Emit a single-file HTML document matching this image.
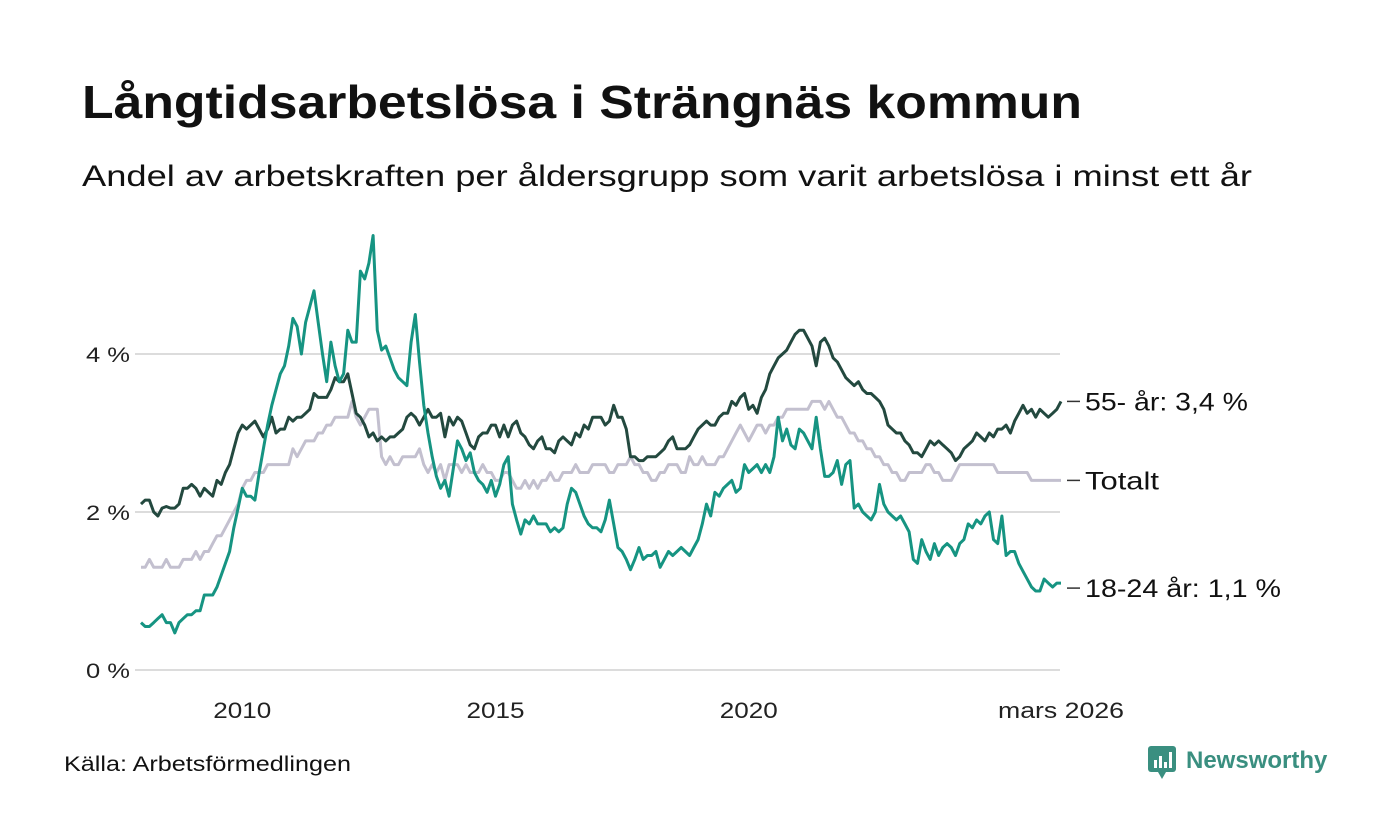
<!DOCTYPE html>
<html><head><meta charset="utf-8"><style>
body{margin:0;background:#fff;font-family:"Liberation Sans",sans-serif;}
#wrap{position:relative;width:1400px;height:840px;overflow:hidden;background:#fff}
</style></head><body>
<div id="wrap">
<svg id="chart" width="1400" height="840" xmlns="http://www.w3.org/2000/svg">
<text x="82" y="118" font-size="46" font-weight="bold" fill="#111" textLength="1000" lengthAdjust="spacingAndGlyphs">Långtidsarbetslösa i Strängnäs kommun</text>
<text x="82" y="186" font-size="30" fill="#111" textLength="1170" lengthAdjust="spacingAndGlyphs">Andel av arbetskraften per åldersgrupp som varit arbetslösa i minst ett år</text>
<g id="grid"></g><g id="series"></g><g id="labels"></g>
<text x="64" y="771" font-size="21" fill="#111" textLength="287" lengthAdjust="spacingAndGlyphs">Källa: Arbetsförmedlingen</text>
<g>
<rect x="1148" y="746" width="28" height="26" rx="3" fill="#3a8f80"/>
<polygon points="1158,772 1166,772 1162,779" fill="#3a8f80"/>
<rect x="1154" y="760" width="3" height="8" fill="#fff"/><rect x="1159" y="756" width="3" height="12" fill="#fff"/><rect x="1164" y="762" width="3" height="6" fill="#fff"/><rect x="1169" y="752" width="3" height="16" fill="#fff"/>
<text x="1186" y="768" font-size="24" font-weight="bold" fill="#3a8f80">Newsworthy</text>
</g>
</svg></div>
<script>
const tickValues=[0,2,4];
const tickLabels=["0 %","2 %","4 %"];
const yearTicks=[2010,2015,2020];
const seriesNames=["Totalt","55- år","18-24 år"];
const totalt=[1.3,1.3,1.4,1.3,1.3,1.3,1.4,1.3,1.3,1.3,1.4,1.4,
1.4,1.5,1.4,1.5,1.5,1.6,1.7,1.7,1.8,1.9,2.0,2.1,
2.3,2.4,2.4,2.5,2.5,2.5,2.6,2.6,2.6,2.6,2.6,2.6,
2.8,2.7,2.8,2.9,2.9,2.9,3.0,3.0,3.1,3.1,3.2,3.2,
3.2,3.2,3.4,3.2,3.1,3.2,3.3,3.3,3.3,2.7,2.6,2.7,
2.6,2.6,2.7,2.7,2.7,2.7,2.8,2.6,2.5,2.6,2.5,2.6,
2.4,2.6,2.6,2.6,2.5,2.6,2.5,2.5,2.5,2.6,2.5,2.5,
2.4,2.4,2.5,2.5,2.4,2.3,2.3,2.4,2.3,2.4,2.3,2.4,
2.4,2.5,2.4,2.4,2.5,2.5,2.5,2.6,2.5,2.5,2.5,2.6,
2.6,2.6,2.6,2.5,2.5,2.6,2.6,2.6,2.7,2.6,2.6,2.5,
2.5,2.4,2.4,2.5,2.5,2.6,2.6,2.6,2.5,2.5,2.7,2.6,
2.6,2.7,2.6,2.6,2.6,2.7,2.7,2.8,2.9,3.0,3.1,3.0,
2.9,3.0,3.1,3.1,3.0,3.1,3.1,3.2,3.2,3.3,3.3,3.3,
3.3,3.3,3.3,3.4,3.4,3.4,3.3,3.4,3.3,3.2,3.2,3.1,
3.0,3.0,2.9,2.9,2.8,2.8,2.7,2.7,2.6,2.6,2.5,2.5,
2.4,2.4,2.5,2.5,2.5,2.5,2.6,2.6,2.5,2.5,2.4,2.4,
2.4,2.5,2.6,2.6,2.6,2.6,2.6,2.6,2.6,2.6,2.6,2.5,
2.5,2.5,2.5,2.5,2.5,2.5,2.5,2.4,2.4,2.4,2.4,2.4,
2.4,2.4,2.4];
const age55=[2.1,2.15,2.15,2.0,1.95,2.05,2.07,2.05,2.05,2.1,2.3,2.3,
2.35,2.3,2.2,2.3,2.25,2.2,2.4,2.35,2.5,2.6,2.8,3.0,
3.1,3.05,3.1,3.15,3.05,2.95,3.05,3.2,3.0,3.05,3.05,3.2,
3.15,3.2,3.2,3.25,3.3,3.5,3.45,3.45,3.45,3.55,3.7,3.65,
3.65,3.75,3.5,3.25,3.2,3.1,2.95,3.0,2.9,2.95,2.9,2.95,
2.95,3.0,3.05,3.2,3.25,3.2,3.1,3.2,3.3,3.2,3.2,3.25,
2.95,3.2,3.1,3.2,3.15,3.0,2.85,2.8,2.95,3.0,3.0,3.1,
3.1,2.95,3.1,2.95,3.1,3.15,3.0,2.95,2.85,2.8,2.9,2.95,
2.8,2.8,2.75,2.9,2.95,2.9,2.85,3.0,2.95,3.1,3.05,3.2,
3.2,3.2,3.1,3.15,3.35,3.2,3.2,3.05,2.7,2.7,2.65,2.65,
2.7,2.7,2.7,2.75,2.8,2.9,2.95,2.8,2.8,2.8,2.85,2.95,
3.05,3.1,3.15,3.1,3.1,3.2,3.25,3.25,3.4,3.35,3.45,3.5,
3.3,3.35,3.25,3.45,3.55,3.75,3.85,3.95,4.0,4.05,4.15,4.25,
4.3,4.3,4.2,4.1,3.85,4.15,4.2,4.1,3.95,3.9,3.8,3.7,
3.65,3.6,3.65,3.55,3.5,3.5,3.45,3.4,3.3,3.1,3.05,3.0,
3.0,2.9,2.85,2.75,2.75,2.7,2.8,2.9,2.85,2.9,2.85,2.8,
2.75,2.65,2.7,2.8,2.85,2.9,3.0,2.95,2.9,3.0,2.95,3.05,
3.05,3.1,3.0,3.15,3.25,3.35,3.25,3.3,3.2,3.3,3.25,3.2,
3.25,3.3,3.4];
const age1824=[0.6,0.55,0.55,0.6,0.65,0.7,0.6,0.6,0.47,0.6,0.65,0.7,
0.7,0.75,0.75,0.95,0.95,0.95,1.05,1.2,1.35,1.5,1.8,2.05,
2.3,2.2,2.2,2.15,2.5,2.8,3.1,3.35,3.55,3.75,3.85,4.1,
4.45,4.35,4.0,4.4,4.6,4.8,4.4,4.0,3.65,4.15,3.85,3.65,
3.75,4.3,4.15,4.15,5.05,4.95,5.15,5.5,4.3,4.05,4.1,3.95,
3.8,3.7,3.65,3.6,4.15,4.5,3.9,3.35,3.0,2.7,2.45,2.3,
2.4,2.2,2.55,2.9,2.8,2.65,2.75,2.5,2.4,2.35,2.25,2.4,
2.2,2.35,2.6,2.7,2.1,1.9,1.72,1.9,1.85,1.95,1.85,1.85,
1.85,1.75,1.8,1.75,1.8,2.1,2.3,2.25,2.1,1.95,1.85,1.8,
1.8,1.75,1.9,2.15,1.85,1.55,1.5,1.4,1.27,1.4,1.55,1.4,
1.45,1.45,1.5,1.3,1.4,1.5,1.45,1.5,1.55,1.5,1.45,1.55,
1.65,1.85,2.1,1.95,2.25,2.2,2.3,2.35,2.4,2.25,2.3,2.6,
2.5,2.55,2.6,2.5,2.6,2.5,2.7,3.2,2.9,3.05,2.85,2.8,
3.05,3.0,2.9,2.8,3.2,2.8,2.45,2.45,2.5,2.65,2.35,2.6,
2.65,2.05,2.1,2.0,1.95,1.9,2.0,2.35,2.1,2.0,1.95,1.9,
1.95,1.85,1.75,1.4,1.35,1.65,1.5,1.4,1.6,1.45,1.55,1.6,
1.55,1.45,1.6,1.65,1.85,1.8,1.9,1.85,1.95,2.0,1.65,1.6,
1.95,1.45,1.5,1.5,1.35,1.25,1.15,1.05,1.0,1.0,1.15,1.1,
1.05,1.1,1.1];

const NS="http://www.w3.org/2000/svg";
const x0=141, xEnd=1061, nMonths=totalt.length;
function xScale(i){return x0+(xEnd-x0)*i/(nMonths-1);}
function xYear(y){return xScale((y-2008)*12);}
function yScale(v){return 670-v*79;}
function mk(tag,attrs,parent){const e=document.createElementNS(NS,tag);for(const k in attrs)e.setAttribute(k,attrs[k]);parent.appendChild(e);return e;}
const grid=document.getElementById('grid');
tickValues.forEach((v,i)=>{
  const l=mk('line',{x1:135,x2:1060,y1:yScale(v),y2:yScale(v),stroke:'#dcdcdc','stroke-width':2},grid);
  
  
  const t=mk('text',{x:130,y:yScale(v)+8,'font-size':21,'text-anchor':'end',fill:'#222',textLength:44,lengthAdjust:'spacingAndGlyphs'},grid);
  t.textContent=tickLabels[i];
  
  
});
yearTicks.forEach(y=>{
  const t=mk('text',{x:xYear(y),y:718,'font-size':22,'text-anchor':'middle',fill:'#222',textLength:58,lengthAdjust:'spacingAndGlyphs'},grid);
  t.textContent=String(y);
  
  
});
const lt=mk('text',{x:xEnd,y:718,'font-size':22,'text-anchor':'middle',fill:'#222',textLength:126,lengthAdjust:'spacingAndGlyphs'},grid);
lt.textContent='mars 2026';



const ser=document.getElementById('series');
const defs=[[totalt,'#c3c0cf','line-totalt'],[age55,'#23493f','line-55'],[age1824,'#169482','line-18-24']];
defs.forEach(d=>{
  const pts=d[0].map((v,i)=>xScale(i).toFixed(1)+','+yScale(v).toFixed(1)).join(' ');
  const p=mk('polyline',{points:pts,fill:'none',stroke:d[1],'stroke-width':3,'stroke-linejoin':'round'},ser);
  
  
});
const lab=document.getElementById('labels');
const endLabels=[[age55,'55- år: ',163],[totalt,'',74],[age1824,'18-24 år: ',196]];
endLabels.forEach((d,i)=>{
  const v=d[0][d[0].length-1];
  let y=yScale(v);
  if(i===2) y+=5;
  mk('line',{x1:1067,x2:1080,y1:y,y2:y,stroke:'#333','stroke-width':1.5},lab);
  const t=mk('text',{x:1085,y:y+9,'font-size':25,fill:'#111',textLength:d[2],lengthAdjust:'spacingAndGlyphs'},lab);
  t.textContent=i===1?'Totalt':d[1]+v.toFixed(1).replace('.',',')+' %';
  
  
});
</script>
</body></html>
